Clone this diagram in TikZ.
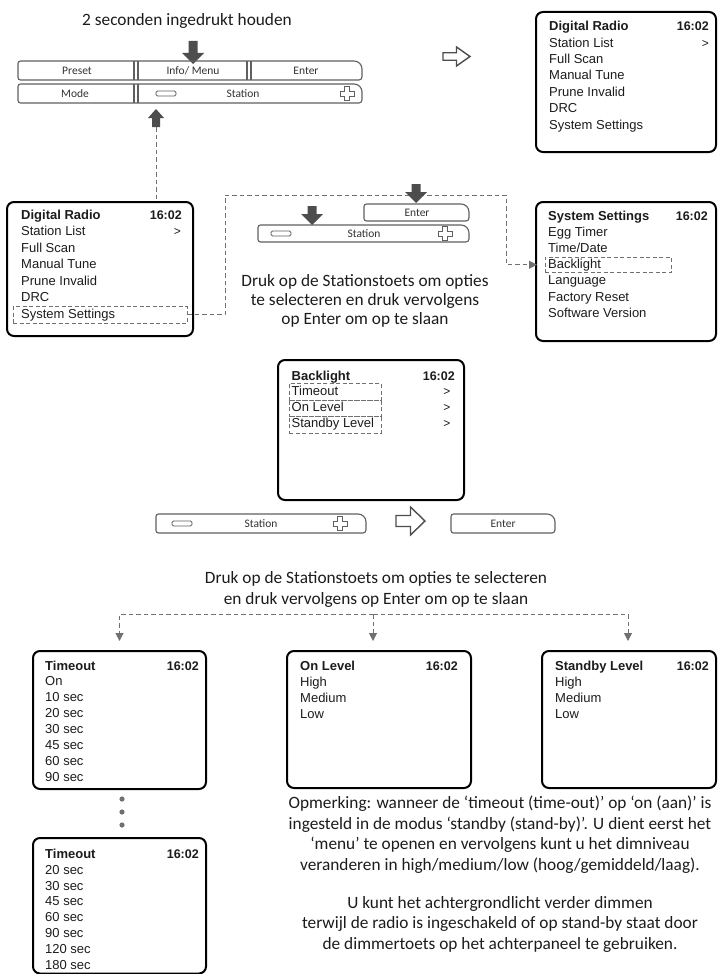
\documentclass[tikz,border=0pt]{standalone}
\usepackage{fontspec}
\setmainfont{Carlito}
\newfontfamily\scr{Liberation Sans}
\usetikzlibrary{arrows.meta}
\definecolor{ink}{HTML}{1C1C1C}
\definecolor{agray}{HTML}{4D4D4D}
\definecolor{dgray}{HTML}{707070}
\definecolor{bgray}{HTML}{606060}
\definecolor{btncol}{HTML}{333333}
\newcommand\dnarrow[4]{\fill[agray] ({#1-4.5},{#2-#3}) -- ({#1+4.5},{#2-#3}) -- ({#1+4.5},{#2-11}) -- ({#1+#4},{#2-11}) -- (#1,#2) -- ({#1-#4},{#2-11}) -- ({#1-4.5},{#2-11}) -- cycle;}
\newcommand\btnshape[4]{\draw[btn] (#1,#4) [rounded corners=2.5] -- (#1,#2) [rounded corners=8] -- (#3,#2) [rounded corners=3] -- (#3,#4) [rounded corners=2.5] -- cycle;}
\tikzset{
 scrbox/.style={draw=black, line width=2, rounded corners=7, anchor=north west, inner sep=0, outer sep=0},
 ttl/.style={font=\scr\bfseries\fontsize{13}{13}\selectfont, anchor=base west, inner sep=0, text=ink},
 itm/.style={font=\scr\fontsize{13}{13}\selectfont, anchor=base west, inner sep=0, text=ink},
 clk/.style={font=\scr\bfseries\fontsize{12.5}{12.5}\selectfont, anchor=base east, inner sep=0, text=ink},
 gt/.style={font=\scr\fontsize{12}{12}\selectfont, anchor=base east, inner sep=0, text=ink},
 selbox/.style={draw=dgray, dash pattern=on 4pt off 2.5pt, line width=0.8, anchor=north west, inner sep=0, outer sep=0},
 dline/.style={draw=dgray, line width=1, dash pattern=on 4.5pt off 3pt},
 farrow/.style={-{Triangle[length=8pt,width=8pt]}},
 captxt/.style={font=\fontsize{17.3}{19.3}\selectfont, align=center, text=ink, inner sep=0, anchor=base},
 btn/.style={draw=bgray, line width=1.1},
 btxt/.style={font=\fontsize{11.5}{11.5}\selectfont, text=btncol, inner sep=0},
 plusic/.pic={\draw[btn, line width=0.9] (-2.5,-7) -- (2.5,-7) -- (2.5,-2.5) -- (7,-2.5) -- (7,2.5) -- (2.5,2.5) -- (2.5,7) -- (-2.5,7) -- (-2.5,2.5) -- (-7,2.5) -- (-7,-2.5) -- (-2.5,-2.5) -- cycle;},
 minusic/.pic={\draw[btn, line width=0.9, rounded corners=1.5] (-10,-2.5) rectangle (10,2.5);},
 hollow/.pic={\draw[agray, line width=1.4] (0,-5.5) -- (14,-5.5) -- (14,-14) -- (28,0) -- (14,14) -- (14,5.5) -- (0,5.5) -- cycle;}
}
\begin{document}
\begin{tikzpicture}[x=1pt,y=-1pt]
\useasboundingbox (0,0) rectangle (720,974);
\fill[white] (0,0) rectangle (720,974);

% ---------- top: button bar ----------
\node[captxt] (title) at (187,25.5) {2 seconden ingedrukt houden};
\dnarrow{193}{64}{23}{11}
\btnshape{18}{61}{362}{80}
\btnshape{18}{84}{362}{103}
\draw[btn] (134,61) -- (134,80) (138,61) -- (138,80) (247,61) -- (247,80) (251,61) -- (251,80)
           (134,84) -- (134,103) (138,84) -- (138,103);
\node[btxt] (bpreset) at (77,70.5) {Preset};
\node[btxt] (binfo) at (193,70.5) {Info/ Menu};
\node[btxt] (benter) at (306,70.5) {Enter};
\node[btxt] (bmode) at (75,93.5) {Mode};
\node[btxt] (bstation) at (243,93.5) {Station};
\pic at (166,93.5) {minusic};
\pic at (347,93.5) {plusic};
\fill[agray] (156,109) -- (164,118) -- (160,118) -- (160,127) -- (152,127) -- (152,118) -- (148,118) -- cycle;
\coordinate (ua) at (156,127);
\pic[xscale=27/28, yscale=19/28] at (443,56.5) {hollow};

% ---------- screen A ----------
\node[scrbox, minimum width=180, minimum height=140] (A) at (536,12) {};
\node[ttl] (a0) at (549,30.7) {Digital Radio};
\node[clk] (aclk) at (709,30.7) {16:02};
\foreach \t [count=\i] in {Station List, Full Scan, Manual Tune, Prune Invalid, DRC, System Settings}
  \node[itm] (a\i) at (549,{30.7+16.4*\i}) {\t};
\node[gt] (agt) at (709,47.1) {>};

% ---------- screen B ----------
\node[scrbox, minimum width=186, minimum height=134] (B) at (7,202) {};
\node[ttl] (b0) at (21,219.3) {Digital Radio};
\node[clk] (bclk) at (182,219.3) {16:02};
\foreach \t [count=\i] in {Station List, Full Scan, Manual Tune, Prune Invalid, DRC, System Settings}
  \node[itm] (b\i) at (21,{219.3+16.5*\i}) {\t};
\node[gt] (bgt) at (181,235.8) {>};
\node[selbox, minimum width=174, minimum height=16.5] (ss) at (13,306.5) {};
\draw[dline] (ua) -- (ua |- B.north);

% ---------- screen C ----------
\node[scrbox, minimum width=180, minimum height=139] (C) at (536,202) {};
\node[ttl] (c0) at (548,220) {System Settings};
\node[clk] (cclk) at (708,220) {16:02};
\foreach \t [count=\i] in {Egg Timer, Time/Date, Backlight, Language, Factory Reset, Software Version}
  \node[itm] (c\i) at (548,{220+16.2*\i}) {\t};
\node[selbox, minimum width=126, minimum height=15.5] (bl) at (545,257) {};
\coordinate (k1) at (225,195);
\coordinate (k2) at (506,195);
\draw[dline, farrow, shorten >=8] (ss.east) -| (k1) -- (k2) |- (bl.west);

% ---------- middle buttons ----------
\btnshape{364}{204}{469}{221}
\btnshape{258}{225}{469}{242}
\node[btxt] (ment) at (417,212.5) {Enter};
\node[btxt] (mst) at (364,233.5) {Station};
\pic at (281,233.5) {minusic};
\pic at (445,233.5) {plusic};
\dnarrow{312}{225}{19}{11}
\dnarrow{416}{203}{19}{11}
\node[captxt] (cap2) at (365,324.8) {Druk op de Stationstoets om opties\\te selecteren en druk vervolgens\\op Enter om op te slaan};

% ---------- screen D ----------
\node[scrbox, minimum width=186, minimum height=140] (D) at (278,360) {};
\node[ttl] (d0) at (291.5,380) {Backlight};
\node[clk] (dclk) at (455,380) {16:02};
\foreach \t [count=\i] in {Timeout, On Level, Standby Level}{
  \node[itm] (d\i) at (291.5,{380+15.8*\i}) {\t};
  \node[gt] (dg\i) at (450.5,{380+15.8*\i}) {>};
  \node[selbox, minimum width=92, minimum height=16.7] (ds\i) at (289,{383.3+16.7*(\i-1)}) {};
}

% ---------- lower buttons ----------
\btnshape{156}{514}{366}{533}
\node[btxt] (bst2) at (261,523.5) {Station};
\pic at (182,523.5) {minusic};
\pic at (340,523.5) {plusic};
\pic[xscale=29/28] at (396,521) {hollow};
\btnshape{451}{514}{555}{533}
\node[btxt] (ben2) at (503,523.5) {Enter};

\node[captxt, font=\fontsize{17.3}{21}\selectfont] (cap3) at (376,604) {Druk op de Stationstoets om opties te selecteren\\en druk vervolgens op Enter om op te slaan};

% ---------- screens E, F, G, H ----------
\node[scrbox, minimum width=173, minimum height=138] (E) at (33,651) {};
\node[ttl] (e0) at (45,670) {Timeout};
\node[clk] (eclk) at (199,670) {16:02};
\foreach \t [count=\i] in {On, 10 sec, 20 sec, 30 sec, 45 sec, 60 sec, 90 sec}
  \node[itm] (e\i) at (45,{670+15.95*\i}) {\t};

\foreach \y [count=\i] in {799,812,825}
  \fill[dgray] (122,\y) circle (2.6);

\node[scrbox, minimum width=173, minimum height=135.5] (F) at (33,838) {};
\node[ttl] (f0) at (45,858.3) {Timeout};
\node[clk] (fclk) at (199,858.3) {16:02};
\foreach \t [count=\i] in {20 sec, 30 sec, 45 sec, 60 sec, 90 sec, 120 sec, 180 sec}
  \node[itm] (f\i) at (45,{858.3+15.85*\i}) {\t};

\node[scrbox, minimum width=184, minimum height=137] (G) at (287,651) {};
\node[ttl] (g0) at (300,670.7) {On Level};
\node[clk] (gclk) at (458,670.7) {16:02};
\foreach \t [count=\i] in {High, Medium, Low}
  \node[itm] (g\i) at (300,{670.7+15.8*\i}) {\t};

\node[scrbox, minimum width=174, minimum height=137] (H) at (542,651) {};
\node[ttl] (h0) at (555,670.7) {Standby Level};
\node[clk] (hclk) at (709,670.7) {16:02};
\foreach \t [count=\i] in {High, Medium, Low}
  \node[itm] (h\i) at (555,{670.7+15.8*\i}) {\t};

% ---------- fan-out connectors ----------
\coordinate (hub) at (373,614);
\draw[dline, farrow, shorten >=10] (hub) -| (E.north);
\draw[dline, farrow, shorten >=10] (hub) -| ([xshift=-1pt]H.north);
\draw[dline, farrow, shorten >=10] (hub) -- (hub |- G.north);

% ---------- note ----------
\node[captxt, font=\fontsize{17.3}{20.6}\selectfont] (note) at (500,949.5) {Opmerking: wanneer de ‘timeout (time-out)’ op ‘on (aan)’ is\\ingesteld in de modus ‘standby (stand-by)’. U dient eerst het\\‘menu’ te openen en vervolgens kunt u het dimniveau\\veranderen in high/medium/low (hoog/gemiddeld/laag).\\[17.4pt]U kunt het achtergrondlicht verder dimmen\\terwijl de radio is ingeschakeld of op stand-by staat door\\de dimmertoets op het achterpaneel te gebruiken.};
\end{tikzpicture}
\end{document}
